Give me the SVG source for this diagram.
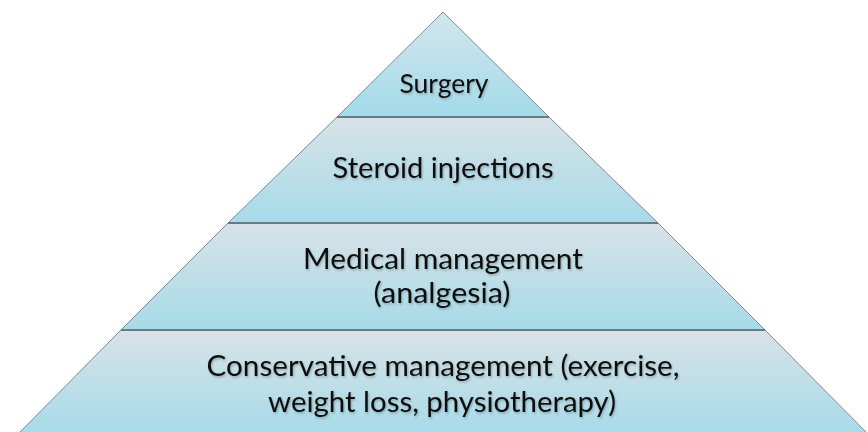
<svg xmlns="http://www.w3.org/2000/svg" width="868" height="432" viewBox="0 0 868 432">
  <defs>
    <linearGradient id="band" x1="0" y1="0" x2="0" y2="1">
      <stop offset="0" stop-color="#d8e2e7"/>
      <stop offset="1" stop-color="#a6dbe9"/>
    </linearGradient>
    <linearGradient id="apex" x1="0" y1="0" x2="0" y2="1">
      <stop offset="0" stop-color="#d3e5ec"/>
      <stop offset="1" stop-color="#a3dbea"/>
    </linearGradient>
    <filter id="shadow" x="-10%" y="-30%" width="120%" height="160%">
      <feDropShadow dx="1" dy="1.5" stdDeviation="1.2" flood-color="#000" flood-opacity="0.25"/>
    </filter>
  </defs>
  <style>
    .band { fill: url(#band); stroke: #7d8c94; stroke-width: 1; }
    .top { fill: url(#apex); stroke: #7d8c94; stroke-width: 1; }
    .sep { stroke: #5d6c74; stroke-width: 1.5; }
    .lbl { font-family: "Lato", "Open Sans", sans-serif; fill: #111; text-anchor: middle; filter: url(#shadow); }
  </style>
  <rect width="868" height="432" fill="#ffffff"/>
  <g id="level4">
    <polygon class="band" points="121,330 765,330 869,435 17,435"/>
    <text class="lbl" x="443" y="376" font-size="29.8" textLength="473" lengthAdjust="spacingAndGlyphs">Conservative management (exercise,</text>
    <text class="lbl" x="442" y="412" font-size="29.5" textLength="348" lengthAdjust="spacingAndGlyphs">weight loss, physiotherapy)</text>
  </g>
  <g id="level3">
    <polygon class="band" points="228,223 658,223 765,330 121,330"/>
    <text class="lbl" x="443" y="269" font-size="28" textLength="280" lengthAdjust="spacingAndGlyphs">Medical management</text>
    <text class="lbl" x="442" y="303" font-size="28" textLength="137" lengthAdjust="spacingAndGlyphs">(analgesia)</text>
  </g>
  <g id="level2">
    <polygon class="band" points="337,117 549,117 658,223 228,223"/>
    <text class="lbl" x="443" y="178" font-size="29.3" textLength="221" lengthAdjust="spacingAndGlyphs">Steroid injections</text>
  </g>
  <g id="level1">
    <polygon class="top" points="443,12 549,117 337,117"/>
    <text class="lbl" x="444" y="93" font-size="26.6" textLength="89" lengthAdjust="spacingAndGlyphs">Surgery</text>
  </g>
  <g id="connectors">
    <line class="sep" x1="337" y1="117" x2="549" y2="117"/>
    <line class="sep" x1="228" y1="223" x2="658" y2="223"/>
    <line class="sep" x1="121" y1="330" x2="765" y2="330"/>
  </g>
</svg>
